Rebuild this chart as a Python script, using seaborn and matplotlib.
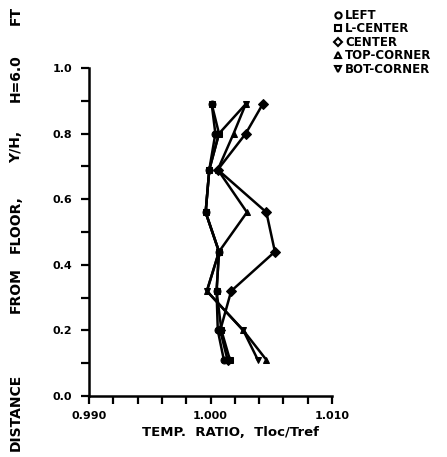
import numpy as np
import pandas as pd
import matplotlib
matplotlib.use("Agg")
import matplotlib.pyplot as plt
from matplotlib.lines import Line2D
from matplotlib.ticker import MultipleLocator
import seaborn as sns

# heights Y/H and temperature ratios
heights = [0.11, 0.20, 0.32, 0.44, 0.56, 0.69, 0.80, 0.89]
left = [1.0011, 1.0006, 1.0005, 1.0007, 0.9996, 0.9999, 1.0004, 1.0001]
l_center = [1.0016, 1.0009, 1.0005, 1.0007, 0.9996, 0.9999, 1.0007, 1.0001]
center = [1.0014, 1.0008, 1.0017, 1.0053, 1.0046, 1.0006, 1.0029, 1.0043]
top_corner = [1.0046, 1.0027, 0.9997, 1.0007, 1.0030, 1.0006, 1.0019, 1.0029]
bot_corner = [1.0039, 1.0027, 0.9997, 1.0007, 0.9996, 0.9999, 1.0007, 1.0029]

series_names = ["LEFT", "L-CENTER", "CENTER", "TOP-CORNER", "BOT-CORNER"]
series_vals = [left, l_center, center, top_corner, bot_corner]
markers = ["o", "s", "D", "^", "v"]

x_ticks = [0.990, 1.000, 1.010]
x_ticklabels = ["0.990", "1.000", "1.010"]
y_ticks = [0.0, 0.2, 0.4, 0.6, 0.8, 1.0]
y_ticklabels = ["0.0", "0.2", "0.4", "0.6", "0.8", "1.0"]

# y label words, drawn one by one (bottom to top)
ylabel_words = ["DISTANCE", "FROM", "FLOOR,", "Y/H,", "H=6.0", "FT"]
ylabel_pos = [412, 290, 224, 147, 78, 15]   # pixel centres from top

sns.set_style("ticks")
plt.rcParams["font.family"] = ["DejaVu Sans"]
plt.rcParams["font.weight"] = "bold"
plt.rcParams["text.color"] = "black"
plt.rcParams["axes.labelcolor"] = "black"
plt.rcParams["xtick.color"] = "black"
plt.rcParams["ytick.color"] = "black"

W, H = 447, 457
fig = plt.figure(figsize=(W / 100, H / 100), dpi=100)
ax = fig.add_axes([89 / W, 1 - 396 / H, 243 / W, 328 / H])

for name, vals, m in zip(series_names, series_vals, markers):
    df = pd.DataFrame({"ratio": vals, "height": heights})
    sns.lineplot(data=df, x="ratio", y="height", sort=False, estimator=None,
                 ax=ax, color="black", linewidth=1.8, marker=m, markersize=5,
                 markeredgecolor="black", markerfacecolor="black")

ax.set_xlim(0.990, 1.010)
ax.set_ylim(0.0, 1.0)
ax.set_xticks(x_ticks)
ax.set_xticklabels(x_ticklabels)
ax.xaxis.set_minor_locator(MultipleLocator(0.002))
ax.set_yticks(y_ticks)
ax.set_yticklabels(y_ticklabels)
ax.yaxis.set_minor_locator(MultipleLocator(0.1))
ax.tick_params(which="both", direction="out", width=1.6, colors="black",
               labelcolor="black", labelsize=8, length=6)
ax.tick_params(axis="x", pad=5)
ax.tick_params(axis="y", pad=6)
for lab in ax.get_xticklabels() + ax.get_yticklabels():
    lab.set_fontweight("bold")

sns.despine(ax=ax)
for sp in ["left", "bottom"]:
    ax.spines[sp].set_linewidth(1.8)
    ax.spines[sp].set_color("black")

ax.set_xlabel("")
ax.set_ylabel("")
fig.text(231 / W, 1 - 432 / H, "TEMP.  RATIO,  Tloc/Tref", ha="center",
         va="center", fontsize=9.5, fontweight="bold", color="black")
for word, py in zip(ylabel_words, ylabel_pos):
    fig.text(16 / W, 1 - py / H, word, rotation=90, ha="center",
             va="center", fontsize=10, fontweight="bold", color="black")

handles = [Line2D([], [], linestyle="none", marker=m, markersize=4.5,
                  markerfacecolor="white", markeredgecolor="black",
                  markeredgewidth=1.5) for m in markers]
fig.legend(handles, series_names, loc="upper left",
           bbox_to_anchor=(330 / W, 1 - 4 / H), frameon=False, fontsize=8.5,
           handlelength=0.6, handletextpad=0.3, labelspacing=0.05,
           borderaxespad=0.0, labelcolor="black")

fig.savefig("out.png", dpi=100)
